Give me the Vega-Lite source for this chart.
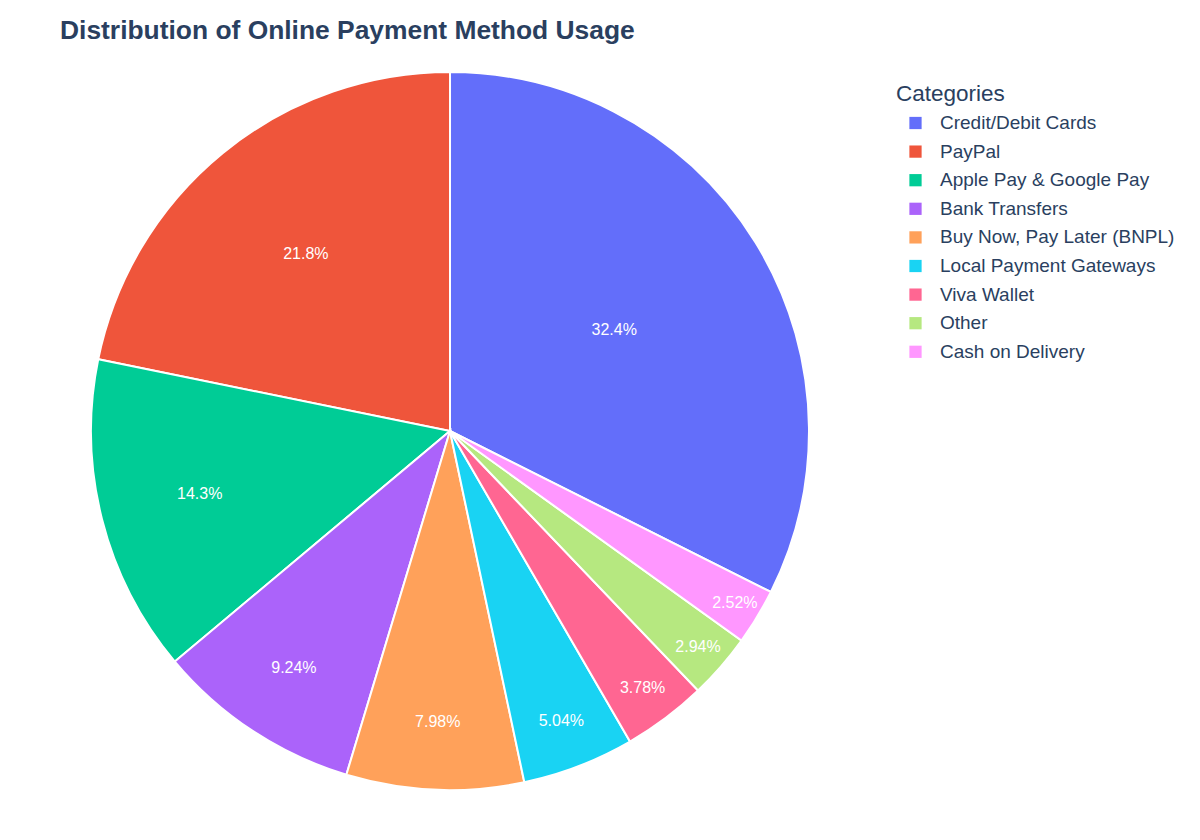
{
  "$schema": "https://vega.github.io/schema/vega-lite/v6.json",
  "width": 718,
  "height": 718,
  "autosize": {"type": "none"},
  "padding": {"left": 91, "top": 72, "right": 391, "bottom": 50},
  "background": "white",
  "title": {
    "text": "Distribution of Online Payment Method Usage",
    "anchor": "start",
    "frame": "group",
    "dx": -31,
    "offset": 24,
    "font": "Liberation Sans",
    "fontSize": 26.4,
    "fontWeight": "bold",
    "color": "#2a3f5f"
  },
  "config": {"view": {"stroke": null}},
  "data": {
    "values": [
      {"method": "Credit/Debit Cards", "share": 0.324},
      {"method": "PayPal", "share": 0.218},
      {"method": "Apple Pay & Google Pay", "share": 0.143},
      {"method": "Bank Transfers", "share": 0.0924},
      {"method": "Buy Now, Pay Later (BNPL)", "share": 0.0798},
      {"method": "Local Payment Gateways", "share": 0.0504},
      {"method": "Viva Wallet", "share": 0.0378},
      {"method": "Other", "share": 0.0294},
      {"method": "Cash on Delivery", "share": 0.0252}
    ]
  },
  "encoding": {
    "theta": {"field": "share", "type": "quantitative", "stack": true, "scale": {"domain": [0, 1], "range": [2.0358, -4.2474]}},
    "order": {"field": "share", "type": "quantitative", "sort": "descending"},
    "color": {
      "field": "method",
      "type": "nominal",
      "sort": null,
      "scale": {
        "domain": ["Credit/Debit Cards", "PayPal", "Apple Pay & Google Pay", "Bank Transfers", "Buy Now, Pay Later (BNPL)", "Local Payment Gateways", "Viva Wallet", "Other", "Cash on Delivery"],
        "range": ["#636EFA", "#EF553B", "#00CC96", "#AB63FA", "#FFA15A", "#19D3F3", "#FF6692", "#B6E880", "#FF97FF"]
      },
      "legend": {
        "title": "Categories",
        "orient": "none",
        "legendX": 805,
        "legendY": 11,
        "titleFont": "Liberation Sans",
        "titleFontSize": 22.5,
        "titleFontWeight": "normal",
        "titleColor": "#2a3f5f",
        "titlePadding": 8,
        "labelFont": "Liberation Sans",
        "labelFontSize": 19,
        "labelColor": "#2a3f5f",
        "labelOffset": 15,
        "symbolType": "square",
        "symbolSize": 150,
        "symbolStrokeWidth": 0,
        "symbolOffset": 10,
        "rowPadding": 8.6,
        "labelLimit": 400
      }
    }
  },
  "layer": [
    {
      "mark": {"type": "arc", "outerRadius": 359, "stroke": "white", "strokeWidth": 2}
    },
    {
      "mark": {"type": "text", "font": "Liberation Sans", "fontSize": 16, "color": "white", "align": "center", "baseline": "middle"},
      "encoding": {
        "radius": {"field": "share", "type": "quantitative", "scale": {"type": "sqrt", "domain": [0.0252, 0.324], "range": [333, 193], "zero": false}},
        "text": {"field": "share", "type": "quantitative", "format": ".3p"},
        "color": {"value": "white"}
      }
    }
  ]
}
